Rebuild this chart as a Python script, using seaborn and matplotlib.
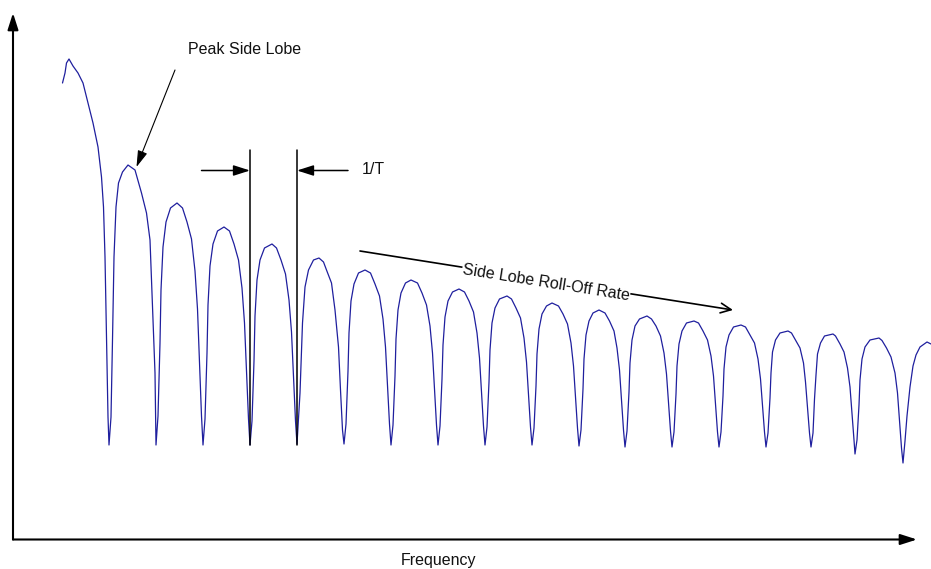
import matplotlib
matplotlib.use("Agg")
import matplotlib.pyplot as plt
import seaborn as sns
import pandas as pd

# ---- data (frequency vs. response level, arbitrary units) ----
main_f = [62.5, 65, 66.5, 69, 73, 78, 83, 88, 93, 98, 101.5, 103.5, 105, 106.5, 108]
main_l = [458, 468, 478, 482, 475, 468, 458, 438, 418, 394, 364, 334, 284, 201, 124]

lobe_f = [
    [109, 111, 112.5, 114, 116, 118.5, 122.5, 128, 135, 141.5, 146.5, 150, 152.5, 155],
    [156, 158, 160, 161, 163, 166, 170.5, 177, 182.5, 187, 191.5, 195, 197.5, 199.5, 201.5],
    [203, 205, 207, 208, 210, 213, 217.5, 224, 229.5, 234, 238.5, 242, 244.5, 246.5, 248.5],
    [250, 252, 254, 255, 257, 260, 264.5, 272, 276.5, 281, 285.5, 289, 291.5, 293.5, 295.5],
    [297, 300, 302.5, 305, 308.5, 313.5, 319, 323.5, 326.5, 331.5, 335, 338.5, 340.5, 342.5],
    [344, 346, 348, 349, 351, 354, 358.5, 365, 370.5, 375, 379.5, 383, 385.5, 387.5, 389.5],
    [391, 393, 395, 396, 398, 401, 405.5, 411, 417.5, 422, 426.5, 430, 432.5, 434.5, 436.5],
    [438, 440, 442, 443, 445, 448, 452.5, 459, 464.5, 469, 473.5, 477, 479.5, 481.5, 483.5],
    [485, 487, 489, 490, 492, 495, 499.5, 507, 511.5, 516, 520.5, 524, 526.5, 528.5, 530.5],
    [532, 534, 536, 537, 539, 542, 546.5, 552, 558.5, 563, 567.5, 571, 573.5, 575.5, 577.5],
    [579, 581, 583, 584, 586, 589, 593, 599, 605, 609.5, 614, 617, 619.5, 621.5, 623.5],
    [625, 627, 629, 630, 632, 635, 639.5, 647, 651.5, 656, 660.5, 664, 666.5, 668.5, 670.5],
    [672, 674, 676, 677, 679, 682, 686.5, 694, 698.5, 703, 707.5, 711, 713.5, 715.5, 717.5],
    [719, 721, 723, 724, 726, 729, 733.5, 741, 745.5, 750, 754.5, 758, 760.5, 762.5, 764.5],
    [766, 768, 770, 771, 772.5, 775.5, 780, 788, 791.5, 795.5, 800, 803.5, 805.5, 807.5, 809.5],
    [811, 813, 814.5, 816, 817.5, 820.5, 824.5, 833, 835.5, 840, 844, 847.5, 850, 852, 854],
    [855, 857, 859, 860, 862, 865, 870, 879, 882, 886.5, 891, 895, 897.5, 899.5, 901.5],
    [903, 905, 907, 910, 913, 916, 920, 927, 931],
]
lobe_l = [
    [96, 124, 201, 284, 334, 358, 369, 376, 371, 348, 328, 301, 234, 168],
    [96, 125, 198, 251, 294, 319, 333, 338, 333, 319, 302, 270, 232, 178, 125],
    [96, 122, 188, 236, 275, 297, 310, 314, 310, 297, 281, 253, 218, 170, 122],
    [96, 120, 180, 225, 261, 281, 293, 297, 293, 281, 267, 241, 209, 164, 120],
    [97, 148, 218, 254, 271, 281, 283, 279, 271, 258, 231, 194, 151, 111],
    [97, 117, 170, 208, 240, 257, 268, 271, 268, 257, 245, 222, 194, 156, 117],
    [96, 116, 165, 202, 231, 248, 258, 261, 258, 248, 236, 215, 188, 152, 116],
    [96, 115, 162, 196, 224, 240, 249, 252, 249, 240, 229, 208, 183, 149, 115],
    [96, 114, 159, 191, 218, 233, 242, 245, 242, 233, 223, 203, 179, 147, 114],
    [96, 113, 155, 187, 212, 227, 235, 238, 235, 227, 217, 198, 175, 144, 113],
    [95, 111, 152, 182, 206, 220, 228, 231, 228, 220, 210, 193, 171, 141, 111],
    [94, 110, 149, 178, 201, 215, 222, 225, 222, 215, 205, 188, 167, 139, 110],
    [94, 109, 147, 175, 197, 210, 218, 220, 218, 210, 201, 185, 165, 137, 109],
    [94, 109, 145, 172, 194, 206, 214, 216, 214, 206, 198, 182, 162, 136, 109],
    [94, 108, 143, 168, 189, 201, 208, 210, 208, 201, 193, 178, 159, 133, 108],
    [94, 108, 142, 166, 187, 198, 205, 207, 205, 197, 189, 173, 154, 128, 101],
    [87, 101, 136, 161, 182, 194, 201, 203, 200.5, 193, 184, 168, 148, 120.5, 93],
    [78, 100, 125, 154, 175, 186, 194, 199, 197],
]

# annotation anchor values
peak_label = "Peak Side Lobe"
peak_point = (128, 376)
period_edges = [250, 297]
period_label = "1/T"
rolloff_label = "Side Lobe Roll-Off Rate"
rolloff_start = (360, 290)
rolloff_end = (733, 231)
xlabel = "Frequency"

# ---- build table ----
freq = list(main_f)
level = list(main_l)
for f, l in zip(lobe_f, lobe_l):
    freq += f
    level += l
df = pd.DataFrame({"freq": freq, "level": level})

sns.set_theme(style="white")
plt.rcParams["font.family"] = ["Liberation Sans", "DejaVu Sans"]

fig = plt.figure(figsize=(9.31, 5.69), dpi=100)
ax = fig.add_axes([0, 0, 1, 1])
sns.lineplot(data=df, x="freq", y="level", ax=ax, color="#1f1f9e",
             linewidth=0.9, sort=False, estimator=None)
ax.set_xlim(0, 931)
ax.set_ylim(-28, 541)
ax.axis("off")

FS = 11.5
filled = "-|>,head_length=1.0,head_width=0.32"

# axes with arrowheads
ax.annotate("", xy=(13, 528), xytext=(13, 1.5),
            arrowprops=dict(arrowstyle=filled, color="black", lw=1.5,
                            mutation_scale=10, shrinkA=0, shrinkB=0))
ax.annotate("", xy=(917, 1.5), xytext=(13, 1.5),
            arrowprops=dict(arrowstyle=filled, color="black", lw=1.5,
                            mutation_scale=10, shrinkA=0, shrinkB=0))
ax.text(439, -24, xlabel, ha="center", va="baseline", fontsize=FS, color="#111111")

# peak side lobe annotation
ax.text(188, 487, peak_label, ha="left", va="baseline", fontsize=FS, color="#111111")
ax.annotate("", xy=(136.5, 374), xytext=(175, 471),
            arrowprops=dict(arrowstyle="-|>,head_length=1.0,head_width=0.3",
                            color="black", lw=0.8, mutation_scale=10,
                            shrinkA=0, shrinkB=0))

# 1/T markers
for xe in period_edges:
    ax.plot([xe, xe], [96, 391], color="black", lw=1.1)
ax.annotate("", xy=(period_edges[0], 370.5), xytext=(201.5, 370.5),
            arrowprops=dict(arrowstyle=filled, color="black", lw=1.1,
                            mutation_scale=10, shrinkA=0, shrinkB=0))
ax.annotate("", xy=(period_edges[1], 370.5), xytext=(348, 370.5),
            arrowprops=dict(arrowstyle=filled, color="black", lw=1.1,
                            mutation_scale=10, shrinkA=0, shrinkB=0))
ax.text(362, 371.5, period_label, ha="left", va="center", fontsize=FS, color="#111111")

# roll-off rate arrow with label
ax.annotate("", xy=rolloff_end, xytext=rolloff_start,
            arrowprops=dict(arrowstyle="->,head_length=0.75,head_width=0.35",
                            color="black", lw=1.2, mutation_scale=10,
                            shrinkA=0, shrinkB=0))
ax.text(546, 258, rolloff_label, ha="center", va="center", rotation=-9,
        rotation_mode="anchor", fontsize=FS, color="#111111", zorder=5,
        bbox=dict(facecolor="white", edgecolor="none", pad=0.3))

fig.savefig("out.png", dpi=100)
